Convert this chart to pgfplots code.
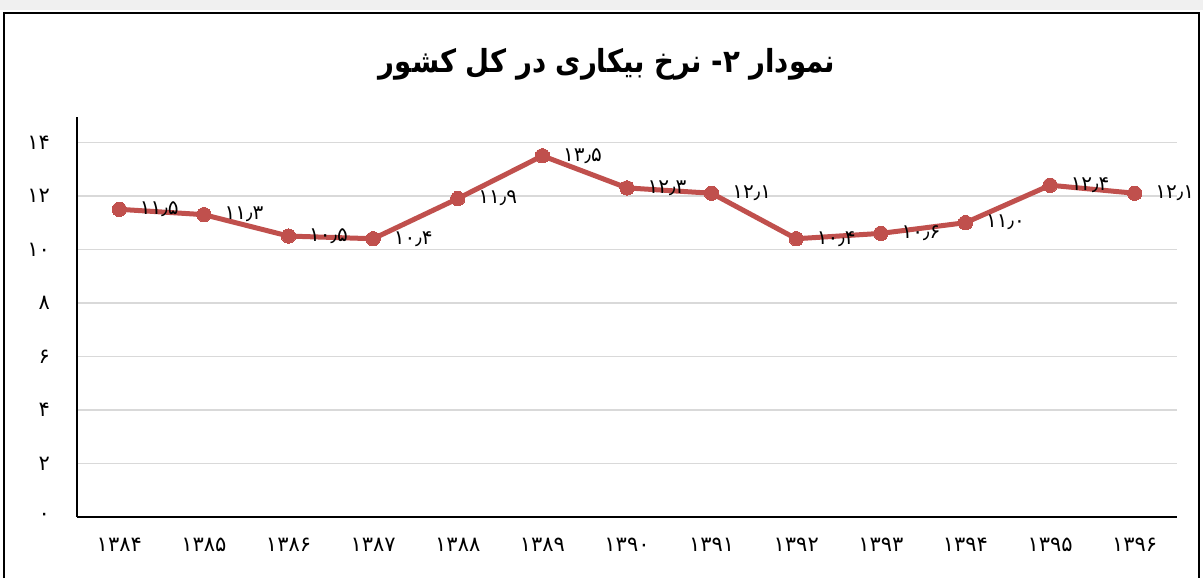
\documentclass[border=0pt]{standalone}
\usepackage{fontspec}
\usepackage{pgfplots}
\pgfplotsset{compat=1.18}
\TeXXeTstate=1
\newfontfamily\arabicfont[Script=Arabic]{DejaVu Sans}
\newfontfamily\numfont{DejaVu Sans}
\definecolor{serred}{RGB}{192,80,77}
\definecolor{gridgray}{RGB}{217,217,217}
\begin{document}
\begin{tikzpicture}[x=1pt,y=1pt]
\useasboundingbox (0,0) rectangle (601.5,289);
\fill[gray!12] (0,289) rectangle (601.5,284);
\draw[line width=1pt] (2.2,0) -- (2.2,282.5) -- (599.5,282.5) -- (599.5,0);
\node[font=\arabicfont\bfseries\fontsize{13.8}{16}\selectfont, yscale=1.15] at (303.5,257) {\beginR نمودار ۲-  نرخ بیکاری در کل کشور\endR};
\begin{axis}[at={(38.5pt,30.5pt)}, anchor=south west, scale only axis,
  width=550pt, height=200pt,
  xmin=-0.5, xmax=12.5, ymin=0, ymax=14.95,
  axis lines*=left,
  axis line style={line width=0.9pt, black},
  ytick={0,2,4,6,8,10,12,14},
  yticklabels={۰,۲,۴,۶,۸,۱۰,۱۲,۱۴},
  xtick={0,1,2,3,4,5,6,7,8,9,10,11,12},
  xticklabels={۱۳۸۴,۱۳۸۵,۱۳۸۶,۱۳۸۷,۱۳۸۸,۱۳۸۹,۱۳۹۰,۱۳۹۱,۱۳۹۲,۱۳۹۳,۱۳۹۴,۱۳۹۵,۱۳۹۶},
  ymajorgrids,
  grid style={gridgray, line width=0.6pt},
  major tick length=0pt,
  tick label style={font=\numfont\fontsize{10.5}{12}\selectfont},
  yticklabel style={xshift=-10pt},
  xticklabel style={yshift=-7pt},
  clip=false
]
\addplot[serred, line width=2.5pt, mark=*, mark size=3.6pt,
  mark options={fill=serred, draw=serred, line width=0pt},
  nodes near coords, point meta=explicit symbolic,
  every node near coord/.style={anchor=west, xshift=7pt, text=black, font=\numfont\fontsize{10}{12}\selectfont}]
coordinates {
(0,11.5) [۱۱٫۵]
(1,11.3) [۱۱٫۳]
(2,10.5) [۱۰٫۵]
(3,10.4) [۱۰٫۴]
(4,11.9) [۱۱٫۹]
(5,13.5) [۱۳٫۵]
(6,12.3) [۱۲٫۳]
(7,12.1) [۱۲٫۱]
(8,10.4) [۱۰٫۴]
(9,10.6) [۱۰٫۶]
(10,11.0) [۱۱٫۰]
(11,12.4) [۱۲٫۴]
(12,12.1) [۱۲٫۱]
};
\end{axis}
\end{tikzpicture}
\end{document}
